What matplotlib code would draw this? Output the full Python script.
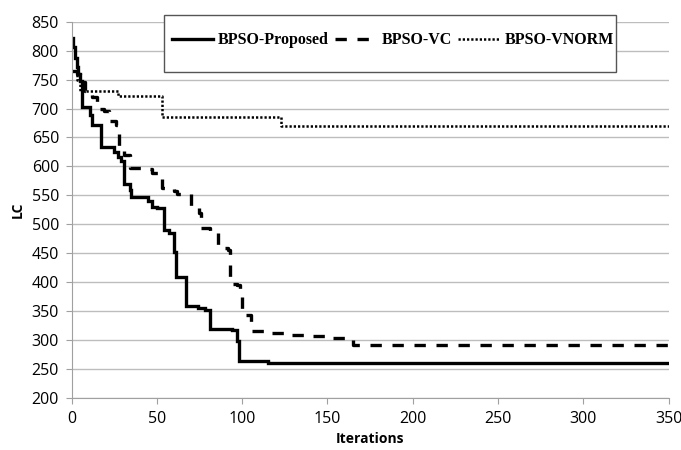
import matplotlib
matplotlib.use('Agg')
import matplotlib.pyplot as plt
from matplotlib.patches import Rectangle

# Step breakpoints (iteration, LC)
proposed_x = [0, 1, 2, 3, 4, 5, 6, 11, 12, 17, 25, 27, 29, 31, 34, 35, 45, 47, 50,
              54, 57, 60, 61, 67, 74, 78, 81, 94, 97, 98, 115, 350]
proposed_y = [822, 806, 788, 772, 760, 748, 702, 688, 672, 633, 625, 617, 610, 570, 560, 548, 540, 530, 528,
              490, 485, 452, 410, 360, 356, 352, 320, 318, 298, 265, 261, 261]

vc_x = [0, 3, 5, 8, 12, 15, 19, 22, 26, 28, 31, 34, 44, 47, 52, 53, 60, 62, 70, 75, 76,
        81, 86, 92, 93, 94, 97, 99, 100, 101, 105, 117, 129, 141, 153, 165, 350]
vc_y = [765, 760, 745, 730, 720, 700, 695, 678, 672, 635, 620, 598, 596, 588, 584, 562, 558, 553, 531, 520, 493,
        485, 460, 455, 410, 398, 395, 380, 350, 343, 316, 312, 310, 307, 304, 292, 292]

vnorm_x = [0, 3, 5, 27, 53, 123, 350]
vnorm_y = [765, 750, 730, 722, 686, 670, 670]

y_ticks = list(range(200, 851, 50))
x_ticks = list(range(0, 351, 50))

fig = plt.figure(figsize=(6.81, 4.5), dpi=100)
ax = fig.add_axes([0.105, 0.115, 0.877, 0.837])

ax.plot(proposed_x, proposed_y, color='black', lw=2.4, drawstyle='steps-post',
        label='BPSO-Proposed', solid_joinstyle='miter')
ax.plot(vc_x, vc_y, color='black', lw=2.4, drawstyle='steps-post',
        linestyle=(0, (3.4, 3.2)), label='BPSO-VC')
ax.plot(vnorm_x, vnorm_y, color='black', lw=1.8, drawstyle='steps-post',
        linestyle=(0, (0.9, 0.8)), label='BPSO-VNORM')

ax.set_xlim(0, 350)
ax.set_ylim(200, 850)
ax.set_xticks(x_ticks)
ax.set_yticks(y_ticks)
ax.yaxis.grid(True, color='#bdbdbd', lw=1)
ax.set_axisbelow(True)
for s in ['top', 'right']:
    ax.spines[s].set_visible(False)
for s in ['left', 'bottom']:
    ax.spines[s].set_color('#a0a0a0')
ax.tick_params(axis='both', colors='#a0a0a0', length=4, labelcolor='black',
               labelsize=11.5, pad=5)
for lab in ax.get_xticklabels() + ax.get_yticklabels():
    lab.set_fontfamily('Open Sans')

ax.set_xlabel('Iterations', fontsize=10, fontweight='bold', family='Open Sans', labelpad=4)
ax.set_ylabel('LC', fontsize=10, fontweight='bold', family='Open Sans', labelpad=5)

# legend box drawn separately so it can be taller than the text row
box = Rectangle((0.155, 0.866), 0.756, 0.152, transform=ax.transAxes, facecolor='white',
                edgecolor='#555555', lw=1.0, clip_on=False, zorder=4)
ax.add_patch(box)
leg = ax.legend(loc='center', bbox_to_anchor=(0.538, 0.950), ncol=3, frameon=False,
                prop={'family': 'Liberation Serif', 'weight': 'bold', 'size': 11.5},
                handlelength=2.6, handletextpad=0.3, columnspacing=0.4,
                borderpad=0, borderaxespad=0)
leg.set_zorder(5)

fig.savefig('out.png', dpi=100)
